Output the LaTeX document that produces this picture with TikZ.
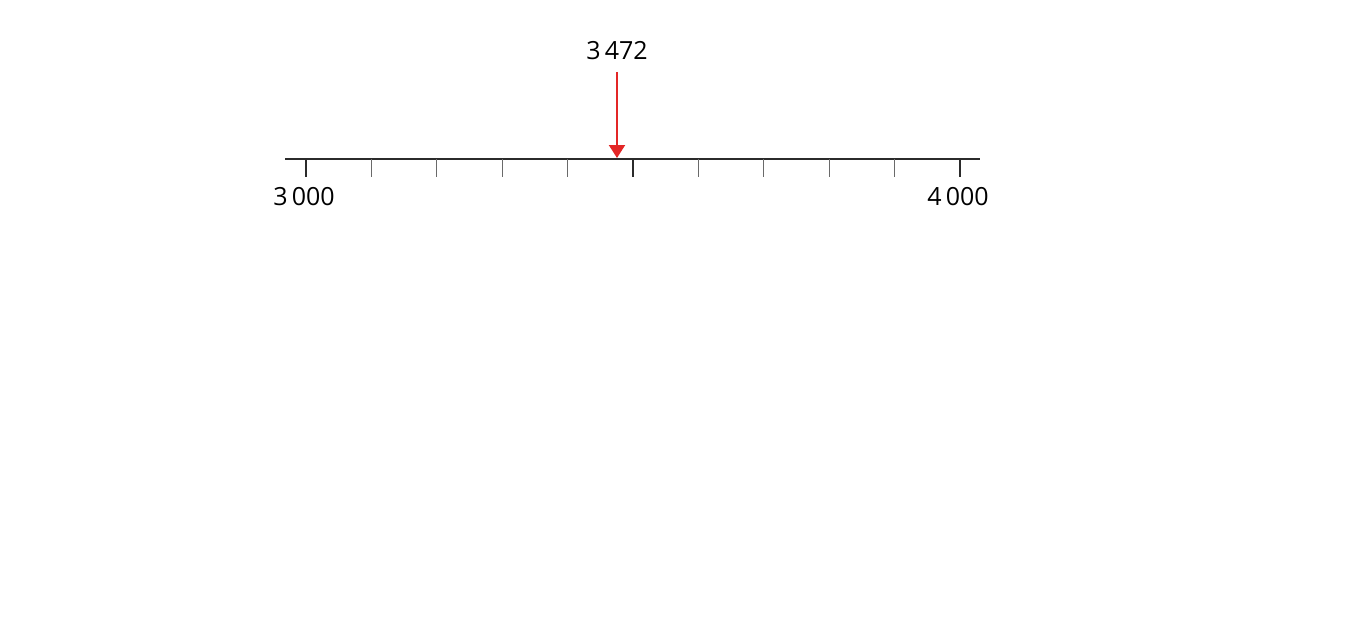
\documentclass[tikz,border=0pt]{standalone}
\usepackage{fontspec}
\setmainfont{Open Sans}
\usetikzlibrary{arrows.meta}
\definecolor{arrred}{HTML}{E32626}
\definecolor{axisgray}{HTML}{2B2B2B}
\definecolor{minorgray}{HTML}{6A6A6A}
\tikzset{
  axis/.style={draw=axisgray, line width=2.2pt},
  majortick/.style={draw=axisgray, line width=2.2pt},
  minortick/.style={draw=minorgray, line width=1pt},
  lbl/.style={font=\fontsize{25}{30}\selectfont, text=black, inner sep=0pt},
  pointer/.style={draw=arrred, line width=2pt, -{Triangle[length=13pt,width=16pt,fill=arrred]}}
}
\begin{document}
\begin{tikzpicture}[x=1pt,y=-1pt]
\useasboundingbox (0,0) rectangle (1349,642);
\coordinate (L) at (285,159);
\coordinate (R) at (980,159);
\draw[axis] (L) -- (R);
\foreach \i in {0,5,10}{
  \draw[majortick] ({306+65.4*\i},159) -- ({306+65.4*\i},177);
}
\foreach \i in {1,2,3,4,6,7,8,9}{
  \draw[minortick] ({306+65.4*\i},159) -- ({306+65.4*\i},177);
}
\node[lbl] (a) at (304,197) {3\,000};
\node[lbl] (b) at (958,197) {4\,000};
\node[lbl] (v) at (617,51) {3\,472};
\coordinate (tip) at (617,158);
\draw[pointer] (617,72) -- (tip);
\end{tikzpicture}
\end{document}
